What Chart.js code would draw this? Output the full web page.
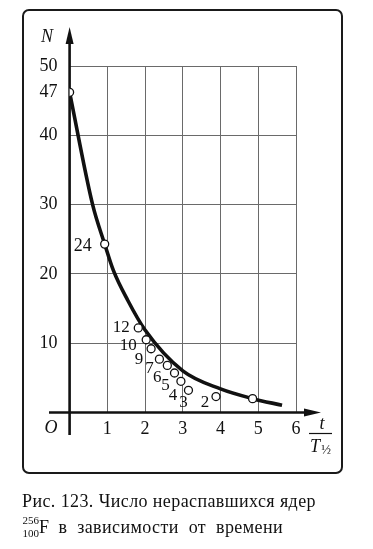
<!DOCTYPE html>
<html>
<head>
<meta charset="utf-8">
<script src="https://cdn.jsdelivr.net/npm/chart.js"></script>
<style>
  body { margin: 0; background: #fff; }
  #wrap { position: relative; width: 373px; height: 549px; overflow: hidden; }
  #frame { position: absolute; left: 22px; top: 9px; width: 317px; height: 461px;
           border: 2px solid #1a1a1a; border-radius: 7px; }
  canvas { position: absolute; left: 0; top: 0; }
  .cap { position: absolute; font-family: "Liberation Serif", serif; font-size: 18px;
         line-height: 20px; letter-spacing: 0.4px; color: #111; white-space: nowrap; }
  .iso { position: absolute; font-family: "Liberation Serif", serif; font-size: 11px;
         line-height: 11px; color: #111; text-align: right; width: 17px; left: 22px; }
</style>
</head>
<body>
<div id="wrap">
  <div id="frame"></div>
  <canvas id="decay" width="373" height="549"></canvas>
  <div class="cap" style="left:22px; top:491px">Рис. 123. Число нераспавшихся ядер</div>
  <div class="iso" style="top:515px">256</div>
  <div class="iso" style="top:528px">100</div>
  <div class="cap" style="left:39px; top:517px; word-spacing:5px">F<span style="margin-left:9px">в зависимости от времени</span></div>
</div>
<script>
// hand-drawn decay curve (t in half-lives, N nuclei)
const curveT = [0, 0.61, 0.93, 1.16, 1.54, 2.0, 3.0, 4.0, 4.85, 5.63];
const curveN = [46.2, 30, 24.3, 20.5, 16.2, 11.9, 6.0, 3.4, 2.0, 1.05];

// circles sitting on the curve
const markT = [0, 0.93, 4.85];
const markN = [46.2, 24.3, 2.0];
const markLabel = ['47', '24', ''];

// measured counts
const countT = [1.82, 2.03, 2.16, 2.38, 2.59, 2.78, 2.95, 3.15, 3.88];
const countN = [12.2, 10.5, 9.2, 7.7, 6.8, 5.7, 4.5, 3.2, 2.3];
const countLabel = ['12', '10', '9', '7', '6', '5', '4', '3', '2'];

const xTicks = [1, 2, 3, 4, 5, 6];
const yTicks = [10, 20, 30, 40, 50];

// label offsets from their circle, in px
const markOffset = [[-12, 0, 'right'], [-22, 2, 'center'], [0, 0, 'center']];
const countOffset = [[-17, 0], [-18, 6], [-12, 11], [-10, 9], [-10, 12], [-9, 13], [-8, 14], [-5, 12], [-11, 6]];

const SERIF = '"Liberation Serif", "DejaVu Serif", serif';

const extras = {
  id: 'extras',
  beforeDatasetsDraw(chart) {
    const ctx = chart.ctx;
    const x = chart.scales.x, y = chart.scales.y;
    const x0 = x.getPixelForValue(0), y0 = y.getPixelForValue(0);
    ctx.save();
    ctx.strokeStyle = '#111';
    ctx.fillStyle = '#111';
    ctx.lineWidth = 2.6;
    // y axis
    ctx.beginPath();
    ctx.moveTo(x0, 435);
    ctx.lineTo(x0, 36);
    ctx.stroke();
    ctx.beginPath();
    ctx.moveTo(x0, 27);
    ctx.lineTo(x0 - 4, 44);
    ctx.lineTo(x0 + 4, 44);
    ctx.closePath();
    ctx.fill();
    // x axis
    ctx.beginPath();
    ctx.moveTo(49, y0);
    ctx.lineTo(312, y0);
    ctx.stroke();
    ctx.beginPath();
    ctx.moveTo(321, y0);
    ctx.lineTo(304, y0 - 4);
    ctx.lineTo(304, y0 + 4);
    ctx.closePath();
    ctx.fill();
    ctx.restore();
  },
  afterDatasetsDraw(chart) {
    const ctx = chart.ctx;
    ctx.save();
    ctx.fillStyle = '#111';
    ctx.strokeStyle = '#111';
    ctx.textBaseline = 'middle';

    ctx.font = 'italic 18px ' + SERIF;
    ctx.textAlign = 'center';
    ctx.fillText('N', 47, 37);
    ctx.fillText('O', 51, 428);
    ctx.fillText('t', 322, 424);
    ctx.fillText('T', 315, 447);
    ctx.font = '13px ' + SERIF;
    ctx.fillText('½', 326, 451);
    ctx.lineWidth = 1.2;
    ctx.beginPath();
    ctx.moveTo(309, 433.5);
    ctx.lineTo(332, 433.5);
    ctx.stroke();

    ctx.font = '18px ' + SERIF;
    chart.getDatasetMeta(0).data.forEach((pt, i) => {
      const [dx, dy, align] = markOffset[i];
      ctx.textAlign = align;
      ctx.fillText(markLabel[i], pt.x + dx, pt.y + dy);
    });
    ctx.font = '17px ' + SERIF;
    ctx.textAlign = 'center';
    chart.getDatasetMeta(1).data.forEach((pt, i) => {
      const [dx, dy] = countOffset[i];
      ctx.fillText(countLabel[i], pt.x + dx, pt.y + dy);
    });
    ctx.restore();
  }
};

const circle = {
  pointRadius: 4,
  pointBackgroundColor: '#fff',
  pointBorderColor: '#111',
  pointBorderWidth: 1.3,
  showLine: false
};

new Chart(document.getElementById('decay'), {
  type: 'scatter',
  data: {
    datasets: [
      Object.assign({ label: 'marks', data: markT.map((t, i) => ({ x: t, y: markN[i] })), order: 0 }, circle),
      Object.assign({ label: 'counts', data: countT.map((t, i) => ({ x: t, y: countN[i] })), order: 0 }, circle),
      {
        label: 'curve',
        data: curveT.map((t, i) => ({ x: t, y: curveN[i] })),
        showLine: true,
        borderColor: '#111',
        borderWidth: 3.6,
        pointRadius: 0,
        cubicInterpolationMode: 'monotone',
        order: 1
      }
    ]
  },
  options: {
    responsive: false,
    animation: false,
    events: [],
    layout: { padding: { left: 0, top: 66, right: 77, bottom: 106.5 } },
    plugins: { legend: { display: false }, tooltip: { enabled: false } },
    scales: {
      x: {
        type: 'linear', min: 0, max: 6,
        afterBuildTicks: s => { s.ticks = xTicks.map(v => ({ value: v })); },
        afterFit: s => { s.height = 30; },
        grid: { color: '#6a6a6a', lineWidth: 1, drawTicks: false },
        border: { display: false },
        ticks: { color: '#111', padding: 6, maxRotation: 0, font: { family: SERIF, size: 18 } }
      },
      y: {
        min: 0, max: 50,
        afterBuildTicks: s => { s.ticks = yTicks.map(v => ({ value: v })); },
        afterFit: s => { s.width = 69.6; },
        grid: { color: '#6a6a6a', lineWidth: 1, drawTicks: false },
        border: { display: false },
        ticks: { color: '#111', padding: 12, font: { family: SERIF, size: 18 } }
      }
    }
  },
  plugins: [extras]
});
</script>
</body>
</html>
